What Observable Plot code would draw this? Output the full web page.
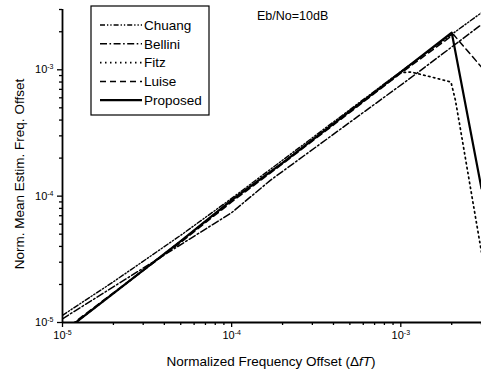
<!DOCTYPE html>
<html>
<head>
<meta charset="utf-8">
<script src="https://cdn.jsdelivr.net/npm/d3@7"></script>
<script src="https://cdn.jsdelivr.net/npm/@observablehq/plot@0.6"></script>
<style>
  html, body { margin: 0; padding: 0; background: white; }
  #chart { width: 481px; height: 378px; }
</style>
</head>
<body>
<div id="chart"></div>
<script>
// ---- data ----
const seriesNames = ["Chuang", "Bellini", "Fitz", "Luise", "Proposed"];

const chuangX = [1e-5, 2e-5, 5e-5, 1e-4, 1e-3, 3e-3];
const chuangY = [1.14e-5, 2.1e-5, 4.9e-5, 9.6e-5, 9.7e-4, 2.83e-3];

const belliniX = [1e-5, 1e-4, 1.7e-4, 1.1e-3, 3e-3];
const belliniY = [1.07e-5, 7.4e-5, 1.34e-4, 8.3e-4, 2.28e-3];

const fitzX = [1e-5, 2e-5, 5e-5, 1e-4, 2e-4, 5e-4, 1e-3, 1.15e-3, 1.5e-3, 1.98e-3, 2.1e-3, 2.26e-3, 2.6e-3, 3e-3];
const fitzY = [8.3e-6, 1.7e-5, 4.4e-5, 9.2e-5, 1.83e-4, 4.7e-4, 9.5e-4, 9.6e-4, 8.8e-4, 8.0e-4, 5.8e-4, 3.3e-4, 1.1e-4, 3.6e-5];

const luiseX = [1e-5, 2e-5, 5e-5, 1e-4, 2e-4, 5e-4, 1e-3, 2.05e-3, 3e-3];
const luiseY = [8.5e-6, 1.72e-5, 4.3e-5, 9.0e-5, 1.8e-4, 4.6e-4, 9.4e-4, 1.9e-3, 1.05e-3];

const proposedX = [1e-5, 2e-5, 5e-5, 1e-4, 2e-4, 5e-4, 1e-3, 2e-3, 3e-3];
const proposedY = [8.3e-6, 1.7e-5, 4.4e-5, 9.3e-5, 1.83e-4, 4.7e-4, 9.6e-4, 1.97e-3, 1.15e-4];

const majorTicks = [1e-5, 1e-4, 1e-3];
const minorTicks = [2e-5, 3e-5, 4e-5, 5e-5, 6e-5, 7e-5, 8e-5, 9e-5,
                    2e-4, 3e-4, 4e-4, 5e-4, 6e-4, 7e-4, 8e-4, 9e-4,
                    2e-3, 3e-3];

const xTitle = "Normalized Frequency Offset (";
const yTitle = "Norm. Mean Estim. Freq. Offset";
const annotation = "Eb/No=10dB";

// ---- build table ----
const mk = (name, xs, ys) => xs.map((x, i) => ({series: name, x, y: ys[i]}));
const chuang = mk("Chuang", chuangX, chuangY);
const bellini = mk("Bellini", belliniX, belliniY);
const fitz = mk("Fitz", fitzX, fitzY);
const luise = mk("Luise", luiseX, luiseY);
const proposed = mk("Proposed", proposedX, proposedY);

const styles = {
  Chuang:   {dash: "5,2,1.3,2,1.3,2", width: 1.4},
  Bellini:  {dash: "7,2.5,1.6,2.5", width: 1.5},
  Fitz:     {dash: "1.5,3.5", width: 1.7},
  Luise:    {dash: "6,4", width: 1.5},
  Proposed: {dash: null, width: 2.2}
};

const fmt = d => "10^" + Math.round(Math.log10(d));
const font = "'Liberation Sans', Arial, Helvetica, sans-serif";

const lineMark = (data, name) => Plot.line(data, {
  x: "x", y: "y", stroke: "black",
  strokeWidth: styles[name].width,
  strokeDasharray: styles[name].dash || undefined,
  clip: true
});

const chart = Plot.plot({
  width: 481, height: 378,
  marginLeft: 62, marginRight: 0, marginTop: 9, marginBottom: 56,
  x: {type: "log", domain: [1e-5, 3e-3]},
  y: {type: "log", domain: [1e-5, 3e-3]},
  style: {fontFamily: font, fontSize: "11px", background: "white", color: "black", overflow: "visible"},
  marks: [
    Plot.axisX(minorTicks, {tickSize: 3, tickFormat: () => "", label: null, strokeWidth: 1.3}),
    Plot.axisX(majorTicks, {tickSize: 5, tickPadding: 4, tickFormat: fmt, label: null, strokeWidth: 1.3, fontSize: 11}),
    Plot.axisY(minorTicks, {tickSize: 3, tickFormat: () => "", label: null, strokeWidth: 1.3}),
    Plot.axisY(majorTicks, {tickSize: 5, tickPadding: 4, tickFormat: fmt, label: null, strokeWidth: 1.3, fontSize: 11}),
    lineMark(chuang, "Chuang"),
    lineMark(bellini, "Bellini"),
    lineMark(fitz, "Fitz"),
    lineMark(luise, "Luise"),
    lineMark(proposed, "Proposed"),
    Plot.ruleX([1e-5], {stroke: "black", strokeWidth: 1.8}),
    Plot.ruleY([1e-5], {stroke: "black", strokeWidth: 1.8})
  ]
});

document.getElementById("chart").appendChild(chart);

// ---- superscript tick labels ----
const svg = d3.select(chart);
svg.selectAll("text").each(function() {
  const t = this.textContent;
  if (t.startsWith("10^")) {
    const exp = t.slice(3);
    const sel = d3.select(this);
    sel.text("");
    sel.append("tspan").text("10");
    sel.append("tspan").attr("dy", "-0.55em").attr("font-size", "7px").text(exp);
  }
});

// ---- axis titles ----
const xt = svg.append("text")
  .attr("x", 271).attr("y", 366)
  .attr("text-anchor", "middle")
  .attr("font-family", font).attr("font-size", "13.5px").attr("fill", "black");
xt.append("tspan").text(xTitle + "\u0394");
xt.append("tspan").attr("font-style", "italic").text("fT");
xt.append("tspan").text(")");

svg.append("text")
  .attr("transform", "translate(24,174) rotate(-90)")
  .attr("text-anchor", "middle")
  .attr("font-family", font).attr("font-size", "13.5px").attr("fill", "black")
  .text(yTitle);

svg.append("text")
  .attr("x", 257).attr("y", 20)
  .attr("text-anchor", "start")
  .attr("font-family", font).attr("font-size", "12.5px").attr("fill", "black")
  .text(annotation);

// ---- legend ----
const lg = svg.append("g");
lg.append("rect").attr("x", 91).attr("y", 6).attr("width", 118).attr("height", 109)
  .attr("fill", "white").attr("stroke", "black").attr("stroke-width", 1.2);
seriesNames.forEach((name, i) => {
  const yy = 25 + i * 18.8;
  lg.append("line").attr("x1", 100).attr("x2", 142).attr("y1", yy).attr("y2", yy)
    .attr("stroke", "black").attr("stroke-width", styles[name].width)
    .attr("stroke-dasharray", styles[name].dash);
  lg.append("text").attr("x", 144).attr("y", yy).attr("dy", "0.36em")
    .attr("text-anchor", "start")
    .attr("font-family", font).attr("font-size", "13.5px").attr("fill", "black")
    .text(name);
});
</script>
</body>
</html>
